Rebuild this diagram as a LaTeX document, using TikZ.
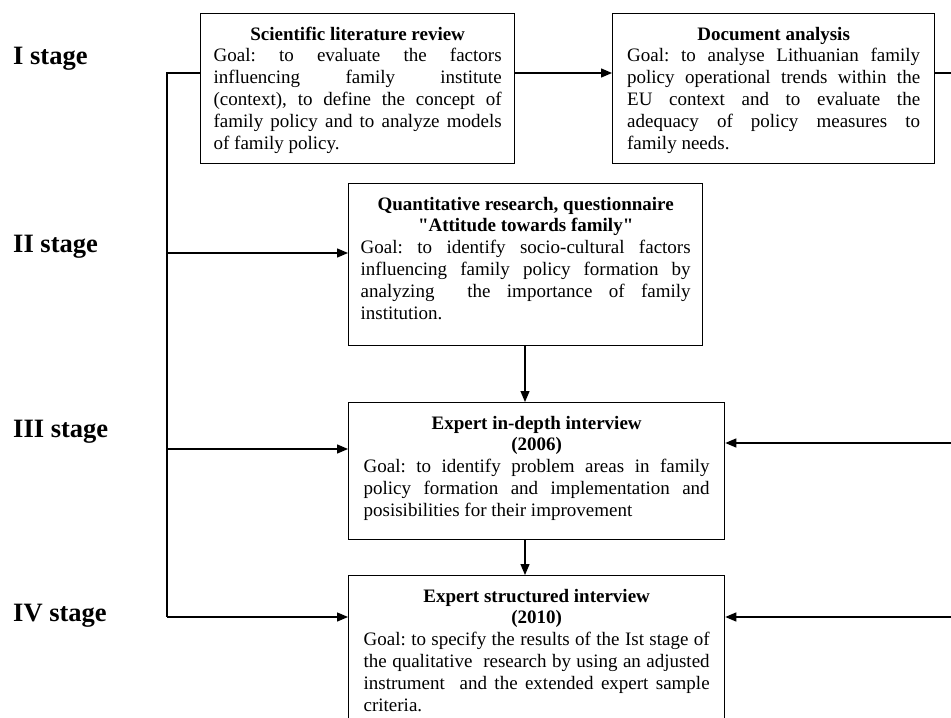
\documentclass[tikz,border=0pt]{standalone}
\usepackage{fontspec}
\setmainfont{Liberation Serif}[Ligatures=TeXOff]
\usetikzlibrary{arrows.meta}
% one justified line, one centred bold title line, one left-set closing line
\newcommand\jline[1]{\noindent\makebox[\linewidth][s]{#1}\par}
\newcommand\tline[1]{\noindent\makebox[\linewidth][c]{\bfseries #1}\par}
\newcommand\lline[1]{\noindent\makebox[\linewidth][l]{#1}\par}
\newcommand\firstgap{\rule{0pt}{26.5bp}}
\frenchspacing
\begin{document}
\begin{tikzpicture}[x=1bp,y=-1bp,
  box/.style={draw, line width=1.3bp, anchor=north west, inner xsep=13bp, inner ysep=0pt,
    font=\fontsize{19bp}{21.8bp}\selectfont\frenchspacing},
  stagelabel/.style={anchor=base west, inner sep=0pt,
    font=\fontsize{26.5bp}{30bp}\selectfont\bfseries},
  link/.style={line width=1.3bp},
  flow/.style={link, -{Triangle[length=11bp,width=9bp]}}]
\useasboundingbox (0,0) rectangle (951,718);

% stage labels
\node[stagelabel] (st1) at (13,65) {I stage};
\node[stagelabel] (st2) at (13,252) {II stage};
\node[stagelabel] (st3) at (13,437) {III stage};
\node[stagelabel] (st4) at (13,621) {IV stage};

% research steps
\node[box] (b1) at (200,13) {\parbox[c][150bp][t]{288bp}{%
  \tline{\firstgap Scientific literature review}
  \jline{Goal: to evaluate the factors}
  \jline{influencing family institute}
  \jline{(context), to define the concept of}
  \jline{family policy and to analyze models}
  \lline{of family policy.}}};

\node[box, inner xsep=14.5bp] (b2) at (612,13) {\parbox[c][150bp][t]{293bp}{%
  \tline{\firstgap Document analysis}
  \jline{Goal: to analyse Lithuanian family}
  \jline{policy operational trends within the}
  \jline{EU context and to evaluate the}
  \jline{adequacy of policy measures to}
  \lline{family needs.}}};

\node[box, inner xsep=12bp] (b3) at (348,183) {\parbox[c][162bp][t]{330bp}{%
  \tline{\firstgap Quantitative research, questionnaire}
  \tline{"Attitude towards family"}
  \jline{Goal: to identify socio-cultural factors}
  \jline{influencing family policy formation by}
  \jline{analyzing\ \ the importance of family}
  \lline{institution.}}};

\node[box, inner xsep=15bp] (b4) at (348,402) {\parbox[c][137bp][t]{346bp}{%
  \tline{\firstgap Expert in-depth interview}
  \tline{(2006)}
  \jline{Goal: to identify problem areas in family}
  \jline{policy formation and implementation and}
  \lline{posisibilities for their improvement}}};

\node[box, inner xsep=15bp] (b5) at (348,575) {\parbox[c][160bp][t]{346bp}{%
  \tline{\firstgap Expert structured interview}
  \tline{(2010)}
  \jline{Goal: to specify the results of the Ist stage of}
  \jline{the qualitative\ \ research by using an adjusted}
  \jline{instrument\ \ and the extended expert sample}
  \lline{criteria.}}};

% left spine and its branches
\coordinate (s1) at (167,73);
\coordinate (s2) at (167,253);
\coordinate (s3) at (167,449);
\coordinate (s4) at (167,617);
\draw[link] (b1.west |- s1) -- (s1) -- (s4);
\draw[flow] (s2) -- (b3.west |- s2);
\draw[flow] (s3) -- (b4.west |- s3);
\draw[flow] (s4) -- (b5.west |- s4);

% top row
\draw[flow] (b1.east |- s1) -- (b2.west |- s1);
\coordinate (r0) at (951,73);
\draw[link] (b2.east |- r0) -- (r0);

% vertical sequence
\coordinate (dx) at (525,0);
\draw[flow] (b3.south -| dx) -- (b4.north -| dx);
\draw[flow] (b4.south -| dx) -- (b5.north -| dx);

% feedback from the right
\coordinate (r1) at (951,443);
\coordinate (r2) at (951,617);
\draw[flow] (r1) -- (b4.east |- r1);
\draw[flow] (r2) -- (b5.east |- r2);
\end{tikzpicture}
\end{document}
